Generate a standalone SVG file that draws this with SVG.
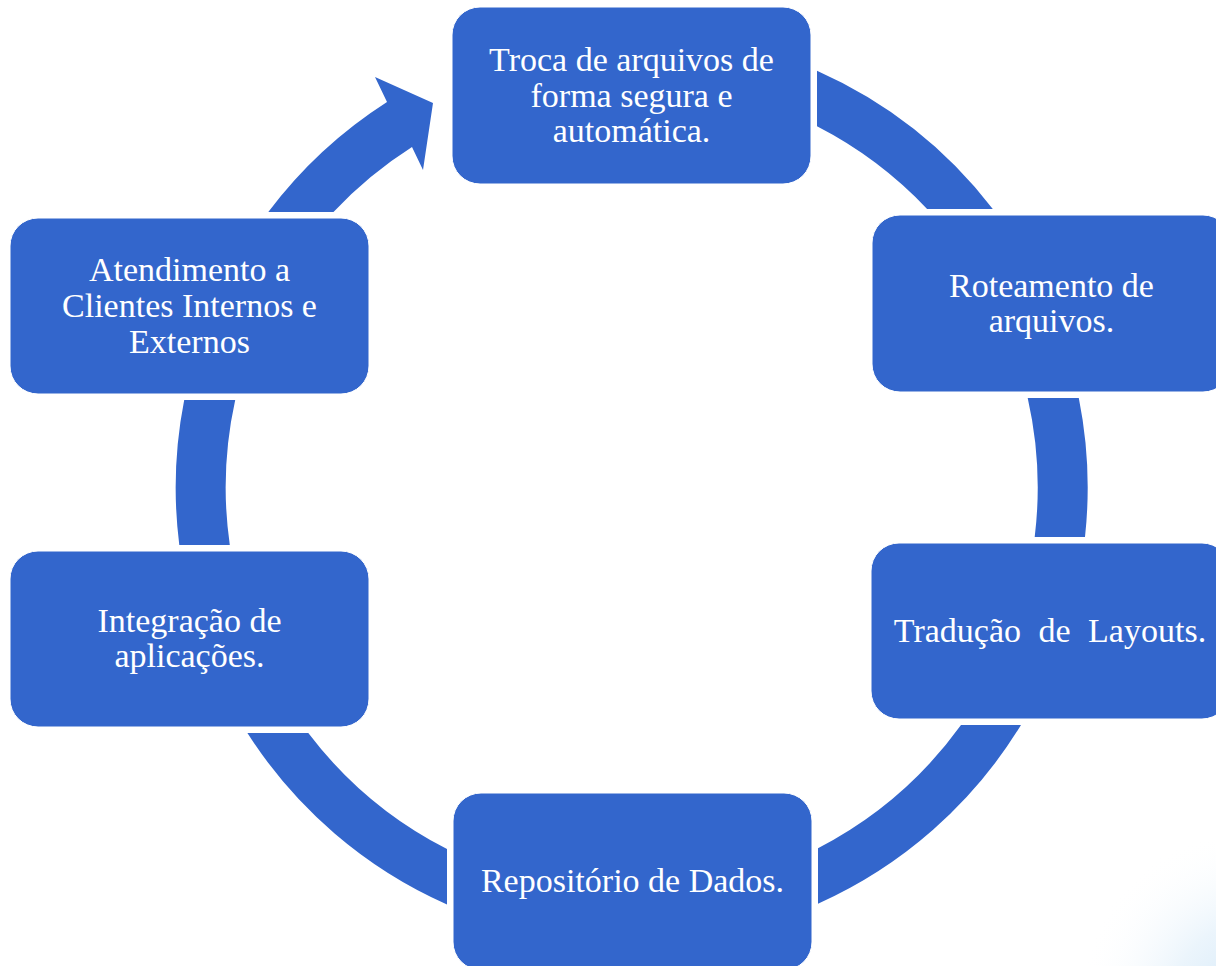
<svg xmlns="http://www.w3.org/2000/svg" width="1216" height="966" viewBox="0 0 1216 966">
  <defs>
    <radialGradient id="bgGlow" cx="1250" cy="1000" r="170" gradientUnits="userSpaceOnUse">
      <stop offset="0" stop-color="#d3e8f8" stop-opacity="1"/>
      <stop offset="0.45" stop-color="#e6f2fb" stop-opacity="0.8"/>
      <stop offset="1" stop-color="#ffffff" stop-opacity="0"/>
    </radialGradient>
    <style>
      .ring { fill: #3366cc; }
      .box { fill: #3366cc; stroke: #ffffff; stroke-width: 1; }
      .lbl { font-family: "Liberation Serif", "Times New Roman", serif; font-size: 34px; fill: #ffffff; text-anchor: middle; }
    </style>
  </defs>
  <rect x="0" y="0" width="1216" height="966" fill="#ffffff"/>
  <rect x="1000" y="780" width="216" height="186" fill="url(#bgGlow)"/>

  <g id="connectors">
    <path class="ring" d="M 817,70.8 A 456 456 0 0 1 992.8,209 L 927.1,209 A 406 406 0 0 0 817,126.3 Z"/>
    <path class="ring" d="M 1078.8,398 A 456 456 0 0 1 1085,537 L 1034.7,537 A 406 406 0 0 0 1027.7,398 Z"/>
    <path class="ring" d="M 1021,725 A 456 456 0 0 1 818,903.7 L 818,848.2 A 406 406 0 0 0 961,725 Z"/>
    <path class="ring" d="M 447,904.4 A 456 456 0 0 1 247.4,733 L 308.3,733 A 406 406 0 0 0 447,849.1 Z"/>
    <path class="ring" d="M 179.3,545 A 456 456 0 0 1 184.2,400 L 235.2,400 A 406 406 0 0 0 229.8,545 Z"/>
    <path class="ring" d="M 268.3,212 A 456 456 0 0 1 387,102 L 375,77 L 433,103 L 423,170 L 412,147 A 406 406 0 0 0 333.5,212 Z"/>
  </g>

  <g id="node-troca">
    <rect class="box" x="452" y="7" width="359" height="177" rx="28" ry="28"/>
    <text class="lbl" x="631.5" y="71">Troca de arquivos de</text>
    <text class="lbl" x="631.5" y="107">forma segura e</text>
    <text class="lbl" x="631.5" y="142">automática.</text>
  </g>

  <g id="node-roteamento">
    <rect class="box" x="872" y="215" width="359" height="177" rx="28" ry="28"/>
    <text class="lbl" x="1051.5" y="297">Roteamento de</text>
    <text class="lbl" x="1051.5" y="332">arquivos.</text>
  </g>

  <g id="node-traducao">
    <rect class="box" x="871" y="543" width="359" height="176" rx="28" ry="28"/>
    <text class="lbl" x="1050" y="642" word-spacing="9">Tradução de Layouts.</text>
  </g>

  <g id="node-repositorio">
    <rect class="box" x="453" y="793" width="359" height="177" rx="28" ry="28"/>
    <text class="lbl" x="632.5" y="892">Repositório de Dados.</text>
  </g>

  <g id="node-integracao">
    <rect class="box" x="10" y="551" width="359" height="176" rx="28" ry="28"/>
    <text class="lbl" x="189.5" y="632">Integração de</text>
    <text class="lbl" x="189.5" y="667">aplicações.</text>
  </g>

  <g id="node-atendimento">
    <rect class="box" x="10" y="218" width="359" height="176" rx="28" ry="28"/>
    <text class="lbl" x="189.5" y="281">Atendimento a</text>
    <text class="lbl" x="189.5" y="317">Clientes Internos e</text>
    <text class="lbl" x="189.5" y="353">Externos</text>
  </g>
</svg>
